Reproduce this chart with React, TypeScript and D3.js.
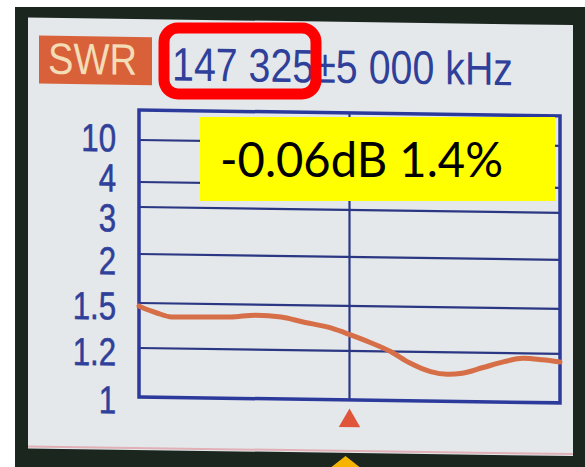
import * as d3 from 'd3';
import React from 'react';

// analyser sweep
const freqMHz = [142.325, 142.4, 142.75, 143.1, 143.7, 144.5, 145.1, 145.7, 146.2, 146.9, 147.35, 147.8, 148.3, 148.75, 149.25, 149.65, 150.0, 150.5, 151.0, 151.45, 151.9, 152.325];
const swr = [1.48, 1.47, 1.435, 1.41, 1.412, 1.415, 1.43, 1.42, 1.39, 1.35, 1.307, 1.26, 1.2, 1.155, 1.12, 1.11, 1.115, 1.14, 1.165, 1.18, 1.175, 1.167];

const swrTicks = [1, 1.2, 1.5, 2, 3, 4, 10];
const gridTicks = [1.2, 1.5, 2, 3, 4, 10];
const centerMHz = 147.325;
const spanMHz = 5;

const modeLabel = 'SWR';
const headerFreq = '147 325±5 000 kHz';
const readout = '-0.06dB 1.4%';

const W = 585;
const H = 467;
const plot = { left: 139, right: 560, top: 110, bottom: 397 };
// the screen nudges crowded labels off their lines
const labelShift: Record<string, number> = { '1': 3, '1.2': 4, '1.5': 3, '2': 7, '3': 11, '4': -4, '10': -2 };

const blue = '#2c3a9c';
const gridBlue = '#2b3783';
const textBlue = '#2f409a';
const traceColor = '#d66f47';

function App() {
  const x = d3
    .scaleLinear()
    .domain([centerMHz - spanMHz, centerMHz + spanMHz])
    .range([plot.left, plot.right]);

  // the device uses its own non-linear SWR scale
  const y = d3
    .scaleLinear()
    .domain(swrTicks)
    .range([plot.bottom, 348, 303, 254, 207, 182, 140]);

  const line = d3
    .line<number>()
    .curve(d3.curveMonotoneX)
    .x((d, i) => x(freqMHz[i]))
    .y((d) => y(d));

  const cx = x(centerMHz);
  const skew = `translate(${plot.left},0) skewY(0.8) translate(${-plot.left},0)`;

  return (
    <svg
      width={W}
      height={H}
      viewBox={`0 0 ${W} ${H}`}
      style={{ position: 'absolute', left: 0, top: 0, display: 'block' }}
    >
      <rect x={0} y={0} width={W} height={H} fill="#ffffff" />
      <rect x={15} y={7} width={W - 15} height={H - 7} fill="#1b261f" />

      <g transform={skew}>
        <rect x={28} y={19} width={545} height={431} fill="#e4e8eb" />
        <rect x={28} y={447} width={545} height={2} fill="#e0b0b6" />

        <rect x={39} y={37} width={113} height={48} fill="#d9613a" />
        <text
          x={48}
          y={75}
          fontFamily="'Liberation Sans', Arial, sans-serif"
          fontSize={44}
          fill="#f3dcb6"
          textLength={89}
          lengthAdjust="spacingAndGlyphs"
        >
          {modeLabel}
        </text>
        <text
          x={172}
          y={80}
          fontFamily="'Liberation Sans', Arial, sans-serif"
          fontSize={47}
          fill={textBlue}
          textLength={341}
          lengthAdjust="spacingAndGlyphs"
        >
          {headerFreq}
        </text>

        <g className="grid">
          {gridTicks.map((t) => (
            <line
              key={t}
              x1={plot.left}
              x2={plot.right}
              y1={y(t)}
              y2={y(t)}
              stroke={gridBlue}
              strokeWidth={2.2}
            />
          ))}
          <line x1={cx} x2={cx} y1={plot.top} y2={plot.bottom} stroke={gridBlue} strokeWidth={2.2} />
        </g>

        <rect
          x={plot.left}
          y={plot.top}
          width={plot.right - plot.left}
          height={plot.bottom - plot.top}
          fill="none"
          stroke={blue}
          strokeWidth={3.5}
        />

        <g className="y-labels">
          {swrTicks.map((t) => (
            <text
              key={t}
              transform={`translate(116,${y(t) + (labelShift[String(t)] || 0)}) scale(0.8,1)`}
              textAnchor="end"
              dominantBaseline="central"
              fontFamily="'Liberation Sans', Arial, sans-serif"
              fontSize={39}
              fill={textBlue}
              stroke={textBlue}
              strokeWidth={0.6}
            >
              {String(t)}
            </text>
          ))}
        </g>

        <path d={line(swr) || ''} fill="none" stroke={traceColor} strokeWidth={5} strokeLinecap="round" />

        <path
          d={d3.symbol(d3.symbolTriangle, 200)() || ''}
          transform={`translate(${cx},${plot.bottom + 21})`}
          fill="#e0553a"
        />
      </g>

      {/* overlays added on top of the photo */}
      <rect x={200} y={117} width={355} height={84} fill="#ffff00" />
      <text
        x={220}
        y={177}
        fontFamily="Lato, 'Open Sans', sans-serif"
        fontSize={48}
        fill="#000000"
        textLength={283}
        lengthAdjust="spacingAndGlyphs"
      >
        {readout}
      </text>
      <rect x={164} y={28} width={152} height={66} rx={14} ry={14} fill="none" stroke="#ff0000" strokeWidth={11} />
      <path d={`M${cx - 4},456 L${cx + 10},467 L${cx - 18},467 Z`} fill="#f6b400" />
    </svg>
  );
}

export default App;
